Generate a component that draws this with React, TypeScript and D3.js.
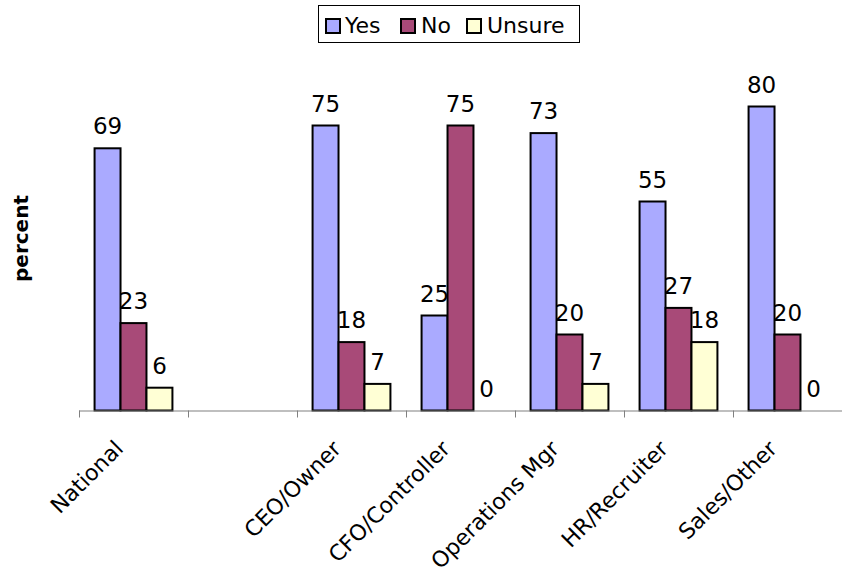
import React from "react";
import * as d3 from "d3";

const categories = ["National", "", "CEO/Owner", "CFO/Controller", "Operations Mgr", "HR/Recruiter", "Sales/Other"];
const seriesNames = ["Yes", "No", "Unsure"];
const yesValues: (number | null)[] = [69, null, 75, 25, 73, 55, 80];
const noValues: (number | null)[] = [23, null, 18, 75, 20, 27, 20];
const unsureValues: (number | null)[] = [6, null, 7, 0, 7, 18, 0];
const colors = ["#aaaaff", "#a84a78", "#ffffd5"];

const W = 842;
const H = 574;
const FONT = "'DejaVu Sans', Verdana, sans-serif";

export default function App() {
  const series = [yesValues, noValues, unsureValues];
  const x0 = d3.scaleBand<number>().domain(categories.map((_, i) => i)).range([79, 842]).padding(0);
  const x1 = d3.scaleBand<string>().domain(seriesNames).range([0, x0.bandwidth()]).paddingInner(0).paddingOuter(0.6);
  const y = d3.scaleLinear().domain([0, 100]).range([410.5, 30.5]);
  const base = y(0);

  const legendItems = [
    { sx: 326, tx: 345 },
    { sx: 401, tx: 421 },
    { sx: 467, tx: 487 },
  ];

  return (
    <svg width={W} height={H} style={{ position: "absolute", left: 0, top: 0, background: "#fff" }} fontFamily={FONT}>
      {categories.map((c, i) => (
        <g key={i} transform={`translate(${x0(i)},0)`}>
          {series.map((vals, s) => {
            const v = vals[i];
            if (v == null) return null;
            const bx = x1(seriesNames[s])!;
            return (
              <g key={s}>
                <rect x={bx} y={y(v)} width={x1.bandwidth()} height={base - y(v)} fill={colors[s]} stroke="#000" strokeWidth={2} />
                <text x={bx + x1.bandwidth() / 2} y={y(v) - 14} textAnchor="middle" fontSize={23} fill="#000">{v}</text>
              </g>
            );
          })}
        </g>
      ))}
      <line x1={79} x2={842} y1={base + 0.5} y2={base + 0.5} stroke="#808080" strokeWidth={1.2} />
      {categories.map((c, i) => (
        <line key={"t" + i} x1={x0(i)! + 0.5} x2={x0(i)! + 0.5} y1={base} y2={base + 7} stroke="#808080" strokeWidth={1} />
      ))}
      {categories.map((c, i) => {
        const cx = x0(i)! + x0.bandwidth() / 2 - 9;
        const cy = 450;
        return (
          <text key={"l" + i} x={cx} y={cy} textAnchor="end" fontSize={22} transform={`rotate(-45,${cx},${cy})`} fill="#000">{c}</text>
        );
      })}
      <text x={0} y={0} transform="translate(27.5,238.5) rotate(-90)" textAnchor="middle" fontSize={20} fontWeight="bold" fill="#000">percent</text>
      <rect x={318.5} y={5.5} width={261} height={37} fill="#fff" stroke="#000" strokeWidth={1} />
      {legendItems.map((it, k) => (
        <g key={k}>
          <rect x={it.sx} y={19} width={14} height={14} fill={colors[k]} stroke="#000" strokeWidth={2} />
          <text x={it.tx} y={33.3} fontSize={22} fill="#000">{seriesNames[k]}</text>
        </g>
      ))}
    </svg>
  );
}
